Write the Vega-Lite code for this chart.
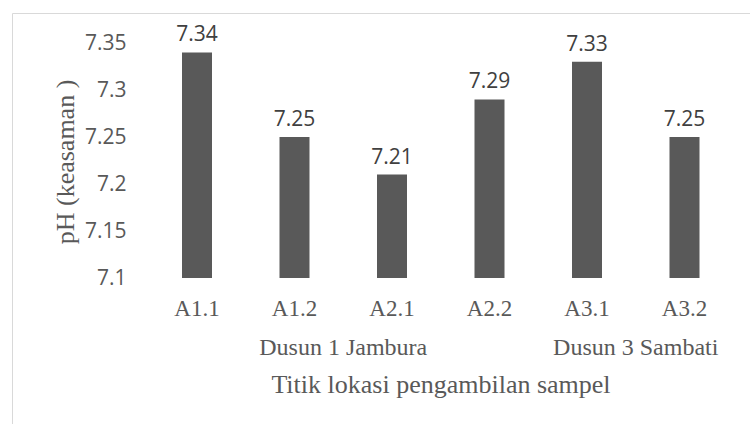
{
  "$schema": "https://vega.github.io/schema/vega-lite/v6.json",
  "width": 738,
  "height": 411,
  "autosize": {"type": "none"},
  "padding": {"left": 12, "top": 13, "right": 0, "bottom": 0},
  "background": "white",
  "config": {
    "view": {"stroke": "#d9d9d9", "strokeWidth": 1},
    "axis": {"grid": false, "domain": false, "ticks": false}
  },
  "datasets": {
    "ph": [
      {"sampel": "A1.1", "ph": 7.34},
      {"sampel": "A1.2", "ph": 7.25},
      {"sampel": "A2.1", "ph": 7.21},
      {"sampel": "A2.2", "ph": 7.29},
      {"sampel": "A3.1", "ph": 7.33},
      {"sampel": "A3.2", "ph": 7.25}
    ],
    "dusun": [
      {"dusun": "Dusun 1 Jambura", "posisi": "A1.2"},
      {"dusun": "Dusun 3 Sambati", "posisi": "A3.1"}
    ]
  },
  "layer": [
    {
      "data": {"name": "ph"},
      "mark": {"type": "bar", "color": "#595959"},
      "encoding": {
        "x": {
          "field": "sampel",
          "type": "nominal",
          "scale": {
            "type": "band",
            "domain": ["A1.1", "A1.2", "A2.1", "A2.2", "A3.1", "A3.2"],
            "range": [170, 687.5],
            "paddingInner": 0.692308,
            "paddingOuter": 0
          },
          "axis": {
            "orient": "bottom",
            "offset": -146,
            "labelFont": "Liberation Serif",
            "labelFontSize": 23,
            "labelColor": "#595959",
            "labelPadding": 37,
            "labelBaseline": "alphabetic",
            "labelAngle": 0,
            "tickSize": 0,
            "ticks": false,
            "domain": false,
            "title": "Titik lokasi pengambilan sampel",
            "titleFont": "Liberation Serif",
            "titleFontSize": 26,
            "titleFontWeight": "normal",
            "titleColor": "#595959",
            "titleX": 428.5,
            "titleY": 114,
            "titleAlign": "center",
            "titleBaseline": "alphabetic"
          }
        },
        "y": {
          "field": "ph",
          "type": "quantitative",
          "scale": {"domain": [6.944681, 7.381915], "zero": false, "nice": false},
          "axis": {
            "orient": "left",
            "offset": -114,
            "values": [7.1, 7.15, 7.2, 7.25, 7.3, 7.35],
            "format": "~g",
            "labelFont": "Open Sans",
            "labelFontSize": 21,
            "labelColor": "#595959",
            "labelPadding": 0,
            "labelBaseline": "middle",
            "labelFlush": false,
            "labelOverlap": false,
            "tickSize": 0,
            "ticks": false,
            "domain": false,
            "grid": false,
            "title": "pH (keasaman )",
            "titleFont": "Liberation Serif",
            "titleFontSize": 26,
            "titleFontWeight": "normal",
            "titleColor": "#595959",
            "titleX": -53,
            "titleY": 148.5,
            "titleAngle": -90,
            "titleAlign": "center",
            "titleBaseline": "alphabetic"
          }
        },
        "y2": {"datum": 7.1}
      }
    },
    {
      "data": {"name": "ph"},
      "mark": {"type": "text", "font": "Open Sans", "fontSize": 21, "color": "#404040", "baseline": "alphabetic", "dy": -11},
      "encoding": {
        "x": {"field": "sampel", "type": "nominal"},
        "y": {"field": "ph", "type": "quantitative"},
        "text": {"field": "ph", "type": "quantitative", "format": "~g"}
      }
    },
    {
      "data": {"name": "dusun"},
      "mark": {"type": "text", "font": "Liberation Serif", "fontSize": 24, "color": "#595959", "baseline": "alphabetic"},
      "encoding": {
        "x": {"field": "posisi", "type": "nominal", "bandPosition": 2.125},
        "y": {"datum": 7.018085},
        "text": {"field": "dusun", "type": "nominal"}
      }
    }
  ]
}
